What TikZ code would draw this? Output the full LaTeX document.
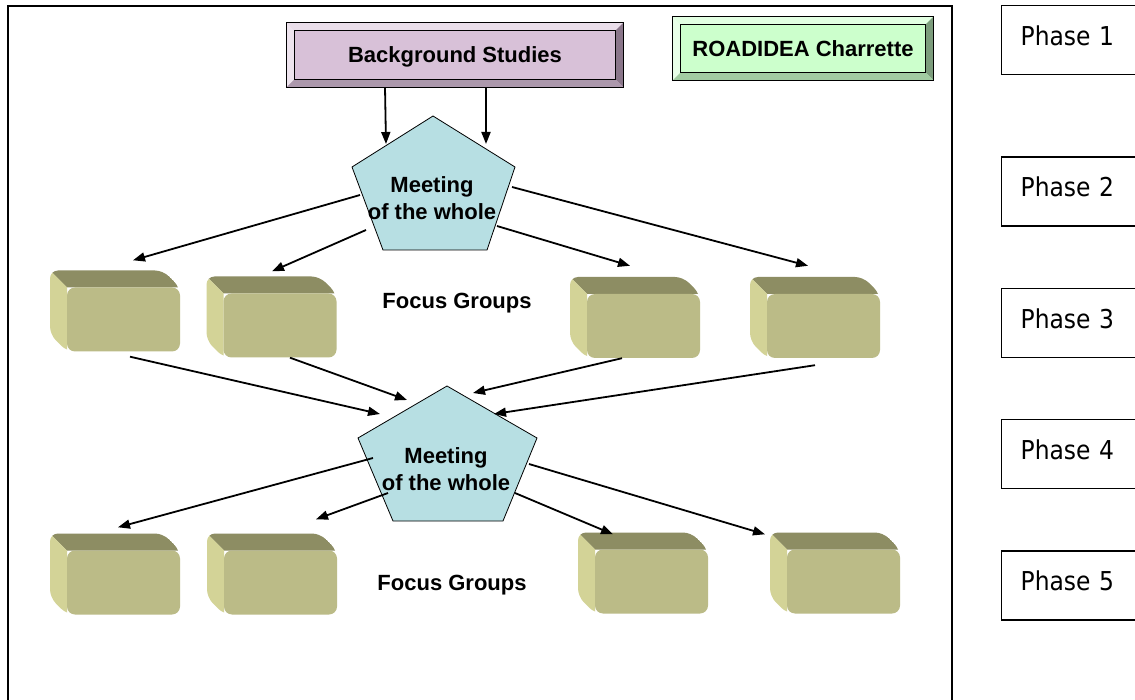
\documentclass[tikz,border=0pt]{standalone}
\usepackage{fontspec}
\setmainfont{Liberation Sans}
\newfontfamily\phasefont{DejaVu Sans Condensed}
\usetikzlibrary{positioning}
\usetikzlibrary{arrows.meta}
\usetikzlibrary{calc}

\definecolor{bgface}{RGB}{216,193,216}
\definecolor{bgtop}{RGB}{234,222,234}
\definecolor{bgleft}{RGB}{238,228,238}
\definecolor{bgright}{RGB}{138,118,138}
\definecolor{bgbottom}{RGB}{172,152,172}
\definecolor{grface}{RGB}{204,255,204}
\definecolor{grtop}{RGB}{226,255,226}
\definecolor{grleft}{RGB}{232,255,232}
\definecolor{grright}{RGB}{124,156,124}
\definecolor{grbottom}{RGB}{162,204,162}
\definecolor{boxtop}{RGB}{141,141,99}
\definecolor{boxside}{RGB}{211,211,151}
\definecolor{boxfront}{RGB}{187,187,135}
\definecolor{meetfill}{RGB}{183,223,227}

\newcommand{\bevelsides}[2]{%
  \fill[#2top] (#1.north west) -- (#1.north east) -- ([shift={(-8,8)}]#1.north east) -- ([shift={(8,8)}]#1.north west) -- cycle;
  \fill[#2left] (#1.north west) -- ([shift={(8,8)}]#1.north west) -- ([shift={(8,-8)}]#1.south west) -- (#1.south west) -- cycle;
  \fill[#2right] (#1.north east) -- (#1.south east) -- ([shift={(-8,-8)}]#1.south east) -- ([shift={(-8,8)}]#1.north east) -- cycle;
  \fill[#2bottom] (#1.south west) -- (#1.south east) -- ([shift={(-8,-8)}]#1.south east) -- ([shift={(8,-8)}]#1.south west) -- cycle;
  \draw[line width=0.8pt] ([shift={(8,8)}]#1.north west) rectangle ([shift={(-8,-8)}]#1.south east);
  \draw[line width=0.8pt] (#1.north west) rectangle (#1.south east);
}

\begin{document}
\begin{tikzpicture}[x=1pt,y=-1pt,
    >={Triangle[length=12pt,width=9pt]},
    arr/.style={->,line width=1.8pt},
    lbl/.style={font=\bfseries\fontsize{22}{27}\selectfont},
    fgbox/.style={fill=boxfront,rounded corners=8pt,minimum width=113pt,minimum height=64pt,inner sep=0pt},
    meet/.style={fill=meetfill,draw,line width=0.8pt},
    phase/.style={draw,line width=1.3pt,anchor=west,minimum height=69pt,text width=140pt,inner xsep=19pt,align=left,text depth=9pt,font=\phasefont\fontsize{26}{30}\selectfont}]
  \clip (0,0) rectangle (1135,700);
  \fill[white] (0,0) rectangle (1135,700);
  \draw[line width=1.5pt] (8,6) rectangle (952,720);

  \node[phase] (ph1) at (1001,40) {Phase 1};
  \node[phase] (ph2) at (1001,191.5) {Phase 2};
  \node[phase,below=61pt of ph2] (ph3) {Phase 3};
  \node[phase,below=61pt of ph3] (ph4) {Phase 4};
  \node[phase,below=61pt of ph4] (ph5) {Phase 5};

  \node[lbl,fill=bgface,minimum width=336pt,minimum height=64pt,text depth=0pt] (bg) at (455,55) {Background Studies};
  \bevelsides{bg}{bg}
  \node[lbl,fill=grface,minimum width=260pt,minimum height=63pt] (rc) at (803,48.5) {ROADIDEA Charrette};
  \bevelsides{rc}{gr}

  \draw[meet] (433,116) -- (515,167) -- (487,250) -- (383,250) -- (352,167) -- cycle;
  \node[lbl,align=center] (m1) at (432,198.5) {Meeting\\of the whole};
  \draw[meet] (447,386) -- (537,438) -- (503,521) -- (393,521) -- (358,438) -- cycle;
  \node[lbl,align=center] (m2) at (446,469.5) {Meeting\\of the whole};

  \foreach \n/\x/\y in {a1/123.5/319.5,a2/280/325.5,a3/643.5/326,a4/823.5/326,b1/123.5/582.5,b2/280.5/582.5,b3/651.5/581.5,b4/843.5/581.5}{
    \begin{scope}
      \clip[rounded corners=8pt] (\x-73.5,\y-49) -- (\x+39.5,\y-49) -- (\x+56.5,\y-32) -- (\x+56.5,\y+32) -- (\x-56.5,\y+32) -- (\x-73.5,\y+15) -- cycle;
      \fill[boxtop] (\x-73.5,\y-49) -- (\x+39.5,\y-49) -- (\x+56.5,\y-32) -- (\x-56.5,\y-32) -- cycle;
      \fill[boxside] (\x-73.5,\y-49) -- (\x-56.5,\y-32) -- (\x-56.5,\y+32) -- (\x-73.5,\y+15) -- cycle;
    \end{scope}
    \node[fgbox] (\n) at (\x,\y) {};
  }

  \node[lbl] (fg1) at (457,303) {Focus Groups};
  \node[lbl] (fg2) at (452,585) {Focus Groups};

  \draw[arr] ($(bg.south)+(-70,0)$) -- ($(m1)+(-46,-54.5)$);
  \draw[arr] ($(bg.south)+(31,0)$) -- ($(m1)+(54,-54.5)$);

  \draw[arr] ($(m1)+(-72,-3.5)$) -- ($(a1.north)+(9.5,-27)$);
  \draw[arr] ($(m1)+(-66,31.5)$) -- ($(a2.north)+(-8,-22)$);
  \draw[arr] ($(m1)+(65,27.5)$) -- ($(a3.north)+(-13.5,-28)$);
  \draw[arr] ($(m1)+(80,-11.5)$) -- ($(a4.north)+(-15.5,-28)$);

  \draw[arr] ($(a1.south)+(6.5,5)$) -- ($(m2)+(-66,-55.5)$);
  \draw[arr] ($(a2.south)+(10,0)$) -- ($(m2)+(-39,-69.5)$);
  \draw[arr] ($(a3.south)+(-21.5,0)$) -- ($(m2)+(27,-76.5)$);
  \draw[arr] ($(a4.south)+(-8.5,7)$) -- ($(m2)+(48,-55.5)$);

  \draw[arr] ($(m2)+(-73,-11.5)$) -- ($(b1.north)+(-5.5,-23)$);
  \draw[arr] ($(m2)+(-58,23.5)$) -- ($(b2.north)+(35.5,-31)$);
  \draw[arr] ($(m2)+(69,23.5)$) -- ($(b3.north)+(-38.5,-15)$);
  \draw[arr] ($(m2)+(83,-5.5)$) -- ($(b4.north)+(-78.5,-15)$);
\end{tikzpicture}
\end{document}
